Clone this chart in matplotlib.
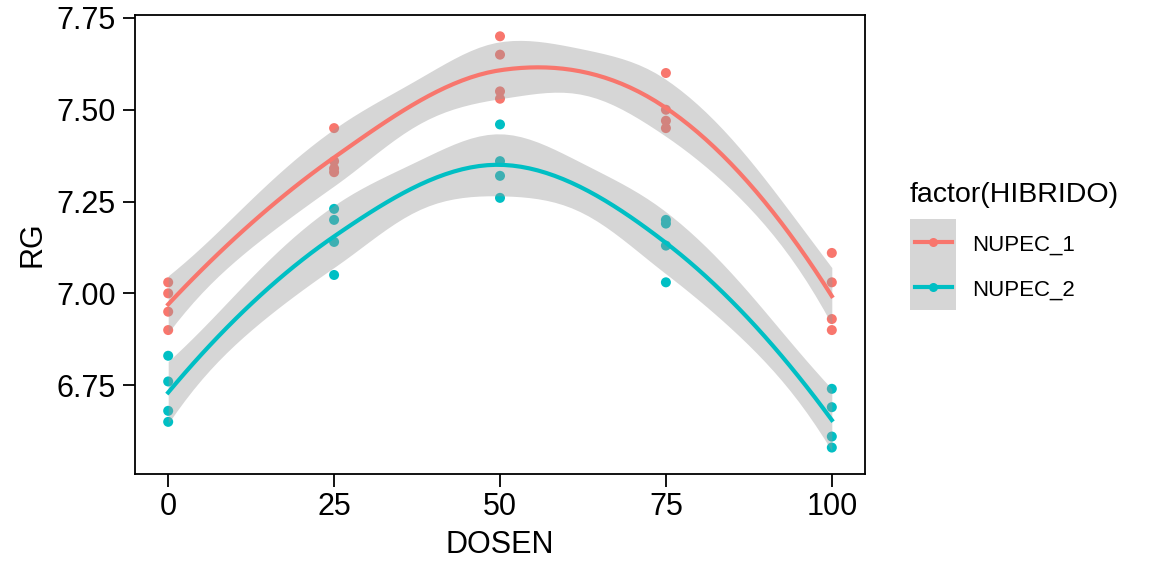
import numpy as np
import matplotlib
matplotlib.use("Agg")
import matplotlib.pyplot as plt
from matplotlib.patches import Rectangle
from matplotlib.lines import Line2D

plt.rcParams["font.family"] = ["Liberation Sans", "DejaVu Sans"]

# data (4 replicates per dose and hybrid)
dosen = [0, 25, 50, 75, 100]
nupec_1 = [
    [7.03, 7.00, 6.95, 6.90],
    [7.45, 7.36, 7.34, 7.33],
    [7.70, 7.65, 7.55, 7.53],
    [7.60, 7.50, 7.47, 7.45],
    [7.11, 7.03, 6.93, 6.90],
]
nupec_2 = [
    [6.83, 6.76, 6.68, 6.65],
    [7.23, 7.20, 7.14, 7.05],
    [7.46, 7.36, 7.32, 7.26],
    [7.20, 7.19, 7.13, 7.03],
    [6.74, 6.69, 6.61, 6.58],
]
labels = ["NUPEC_1", "NUPEC_2"]
colors = ["#F8766D", "#00BFC4"]
y_ticks = [6.75, 7.00, 7.25, 7.50, 7.75]
y_limits = (6.508, 7.758)


def local_rows(x, x0, span=0.75):
    # loess local quadratic (tricube weights): rows giving fit and slope at x0
    n = len(x)
    q = int(np.floor(n * span))
    d = np.abs(x - x0)
    h = np.sort(d)[q - 1] * 1.0000001
    u = np.clip(d / h, 0, 1)
    w = (1 - u ** 3) ** 3
    X = np.column_stack([np.ones(n), x - x0, (x - x0) ** 2])
    XtW = X.T * w
    B = np.linalg.pinv(XtW @ X) @ XtW
    return B[0], B[1]


def t975(df):
    z = 1.959964
    return z + (z ** 3 + z) / (4 * df) + (5 * z ** 5 + 16 * z ** 3 + 3 * z) / (96 * df ** 2)


def loess_smooth(x, y, verts, xs):
    # fit at vertices, cubic hermite in between (like loess surface="interpolate")
    F, S = zip(*[local_rows(x, v) for v in verts])
    F, S = np.array(F), np.array(S)

    def rows_at(pts):
        out = []
        for p in pts:
            k = min(np.searchsorted(verts, p, side="right") - 1, len(verts) - 2)
            hh = verts[k + 1] - verts[k]
            t = (p - verts[k]) / hh
            h00 = 2 * t ** 3 - 3 * t ** 2 + 1
            h10 = t ** 3 - 2 * t ** 2 + t
            h01 = -2 * t ** 3 + 3 * t ** 2
            h11 = t ** 3 - t ** 2
            out.append(h00 * F[k] + h10 * hh * S[k] + h01 * F[k + 1] + h11 * hh * S[k + 1])
        return np.array(out)

    n = len(x)
    L = rows_at(x)
    res = y - L @ y
    M = (np.eye(n) - L).T @ (np.eye(n) - L)
    d1 = np.trace(M)
    d2 = np.trace(M @ M)
    sigma = np.sqrt(np.sum(res ** 2) / d1)
    tq = t975(d1 ** 2 / d2)
    Ls = rows_at(xs)
    fit = Ls @ y
    se = sigma * np.sqrt(np.sum(Ls ** 2, axis=1))
    return fit, fit - tq * se, fit + tq * se


W, H = 1152, 576
fig = plt.figure(figsize=(11.52, 5.76), dpi=100)
ax = fig.add_axes([135 / W, 1 - 474 / H, 730 / W, 459 / H])

groups = []
for vals in [nupec_1, nupec_2]:
    x = np.repeat(dosen, [len(v) for v in vals]).astype(float)
    y = np.concatenate(vals).astype(float)
    groups.append((x, y))

for (x, y), c in zip(groups, colors):
    ax.scatter(x, y, s=52, color=c, edgecolors="none", zorder=2)

verts = np.array(dosen, dtype=float)
xs = np.linspace(0, 100, 80)
for (x, y), c in zip(groups, colors):
    fit, lo, hi = loess_smooth(x, y, verts, xs)
    ax.fill_between(xs, lo, hi, color="#999999", alpha=0.4, linewidth=0, zorder=3)
    ax.plot(xs, fit, color=c, linewidth=3, zorder=4)

ax.set_ylim(*y_limits)
ax.set_xlim(-5, 105)
ax.set_xticks(dosen)
ax.set_yticks(y_ticks)
ax.set_yticklabels([f"{v:.2f}" for v in y_ticks])

for s in ax.spines.values():
    s.set_linewidth(1.3)
    s.set_color("black")
ax.tick_params(axis="both", direction="out", length=9, width=1.3, colors="black",
               labelsize=22)
ax.tick_params(axis="x", pad=4)
ax.tick_params(axis="y", pad=5)
ax.set_xlabel("DOSEN", fontsize=22, labelpad=6)
ax.set_ylabel("RG", fontsize=22, labelpad=6)

# legend drawn like ggplot keys
fig.text(910 / W, 1 - 202 / H, "factor(HIBRIDO)", fontsize=20.5, va="baseline", ha="left")
key_x0, key_w, key_h, key_top = 910, 46, 45.5, 219
for i, (lab, c) in enumerate(zip(labels, colors)):
    top = key_top + i * key_h
    fig.add_artist(Rectangle((key_x0 / W, 1 - (top + key_h) / H), key_w / W, key_h / H,
                             transform=fig.transFigure, facecolor="#D6D6D6",
                             edgecolor="none"))
    yc = 1 - (top + key_h / 2) / H
    fig.add_artist(Line2D([(key_x0 + 5) / W, (key_x0 + key_w - 4) / W], [yc, yc],
                          transform=fig.transFigure, color=c, linewidth=3))
    fig.add_artist(Line2D([(key_x0 + key_w / 2) / W], [yc], transform=fig.transFigure,
                          color=c, marker="o", markersize=6.5, markeredgewidth=0))
    fig.text(972 / W, 1 - (top + key_h / 2 + 8.5) / H, lab, fontsize=16,
             va="baseline", ha="left")

fig.savefig("out.png", dpi=100)
